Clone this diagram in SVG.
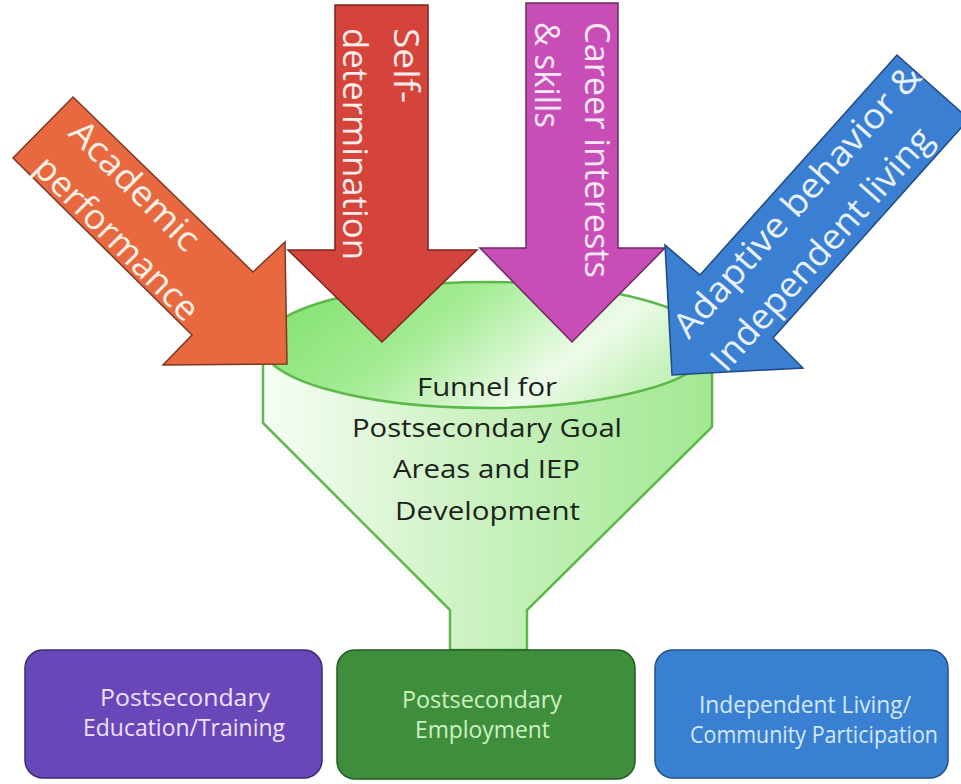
<svg xmlns="http://www.w3.org/2000/svg" width="961" height="784" viewBox="0 0 961 784">
  <style>
    .lbl { font-family: "Open Sans", Lato, "Liberation Sans", sans-serif; }
    .arrow-txt { font-size: 35px; }
    .funnel-txt { font-size: 26px; fill: #1c231c; }
    .box-txt { font-size: 23px; }
    .box { stroke-width: 1.5; }
    .arrow { stroke-width: 1.5; stroke-linejoin: miter; }
  </style>
  <defs>
    <linearGradient id="bowlFill" x1="0" y1="0" x2="1" y2="0.35">
      <stop offset="0" stop-color="#7ddf6a"/>
      <stop offset="0.45" stop-color="#a4ec94"/>
      <stop offset="0.8" stop-color="#eefbea"/>
      <stop offset="1" stop-color="#c8f2bd"/>
    </linearGradient>
    <linearGradient id="coneFill" x1="0" y1="0" x2="1" y2="0">
      <stop offset="0" stop-color="#f7fdf5"/>
      <stop offset="0.45" stop-color="#cdf2c3"/>
      <stop offset="1" stop-color="#a2e892"/>
    </linearGradient>
  </defs>

  <rect width="961" height="784" fill="#ffffff"/>

  <!-- Funnel: cone and neck, then the bowl opening on top -->
  <g id="funnel">
    <path d="M263,345 L263,423 L450,610 L450,650 L527,650 L527,610 L712,427 L712,345 Z"
          fill="url(#coneFill)" stroke="#5cb848" stroke-width="2.5"/>
    <ellipse cx="487" cy="345" rx="225" ry="63" fill="url(#bowlFill)" stroke="#5cb848" stroke-width="2.5"/>
    <g class="lbl funnel-txt">
      <text x="417" y="396" textLength="140" lengthAdjust="spacingAndGlyphs">Funnel for</text>
      <text x="352" y="437" textLength="270" lengthAdjust="spacingAndGlyphs">Postsecondary Goal</text>
      <text x="393" y="478" textLength="187" lengthAdjust="spacingAndGlyphs">Areas and IEP</text>
      <text x="395" y="520" textLength="185" lengthAdjust="spacingAndGlyphs">Development</text>
    </g>
  </g>

  <!-- Input arrows feeding the funnel -->
  <g id="academic-performance">
    <polygon class="arrow" points="73,97 253,272 285,242 287,364 163,365 192,335 13,158"
             fill="#e8683f" stroke="#7a3a22"/>
    <g class="lbl arrow-txt" fill="#fdf1e6" transform="translate(67,134.6) rotate(45)">
      <text x="0" y="0" textLength="168" lengthAdjust="spacingAndGlyphs">Academic</text>
      <text x="0" y="50" textLength="217" lengthAdjust="spacingAndGlyphs">performance</text>
    </g>
  </g>

  <g id="self-determination">
    <polygon class="arrow" points="335,5 428,5 428,250 477,250 382,342 288,250 335,250"
             fill="#d4443a" stroke="#7a2620"/>
    <g class="lbl arrow-txt" fill="#fdecea" transform="translate(394,28) rotate(90)">
      <text x="0" y="0" textLength="75" lengthAdjust="spacingAndGlyphs">Self-</text>
      <text x="0" y="51" textLength="232" lengthAdjust="spacingAndGlyphs">determination</text>
    </g>
  </g>

  <g id="career-interests">
    <polygon class="arrow" points="526,3 618,3 618,248 665,248 572,342 480,248 526,248"
             fill="#c94db6" stroke="#6e2a62"/>
    <g class="lbl arrow-txt" fill="#fbe8f7" transform="translate(585,22) rotate(90)">
      <text x="0" y="0" textLength="256" lengthAdjust="spacingAndGlyphs">Career interests</text>
      <text x="0" y="50" textLength="106" lengthAdjust="spacingAndGlyphs">&amp; skills</text>
    </g>
  </g>

  <g id="adaptive-behavior">
    <polygon class="arrow" points="897,55 969,119 773,338 803,368 672,375 665,245 700,275"
             fill="#3a7fd1" stroke="#1f4a80"/>
    <g class="lbl arrow-txt" fill="#e8f1ff" transform="translate(688.8,340.3) rotate(-48.2)">
      <text x="0" y="0" textLength="352" lengthAdjust="spacingAndGlyphs">Adaptive behavior  &amp;</text>
      <text x="0" y="50" textLength="313" lengthAdjust="spacingAndGlyphs">Independent living</text>
    </g>
  </g>

  <!-- Outcome areas -->
  <g id="education-training">
    <rect class="box" x="25" y="650" width="297" height="128" rx="18" fill="#6947b9" stroke="#3b2a6e"/>
    <g class="lbl box-txt" fill="#ece2ff">
      <text x="100" y="706" textLength="170" lengthAdjust="spacingAndGlyphs">Postsecondary</text>
      <text x="83" y="736" textLength="202" lengthAdjust="spacingAndGlyphs">Education/Training</text>
    </g>
  </g>

  <g id="employment">
    <rect class="box" x="337" y="650" width="298" height="129" rx="18" fill="#3f8e3c" stroke="#245a22"/>
    <g class="lbl box-txt" fill="#ccf2c3">
      <text x="402" y="708" textLength="160" lengthAdjust="spacingAndGlyphs">Postsecondary</text>
      <text x="415" y="738" textLength="135" lengthAdjust="spacingAndGlyphs">Employment</text>
    </g>
  </g>

  <g id="independent-living">
    <rect class="box" x="655" y="650" width="293" height="128" rx="18" fill="#3a80d2" stroke="#244f86"/>
    <g class="lbl box-txt" fill="#d2e8ff">
      <text x="699" y="713" textLength="212" lengthAdjust="spacingAndGlyphs">Independent Living/</text>
      <text x="690" y="743" textLength="248" lengthAdjust="spacingAndGlyphs">Community Participation</text>
    </g>
  </g>
</svg>
